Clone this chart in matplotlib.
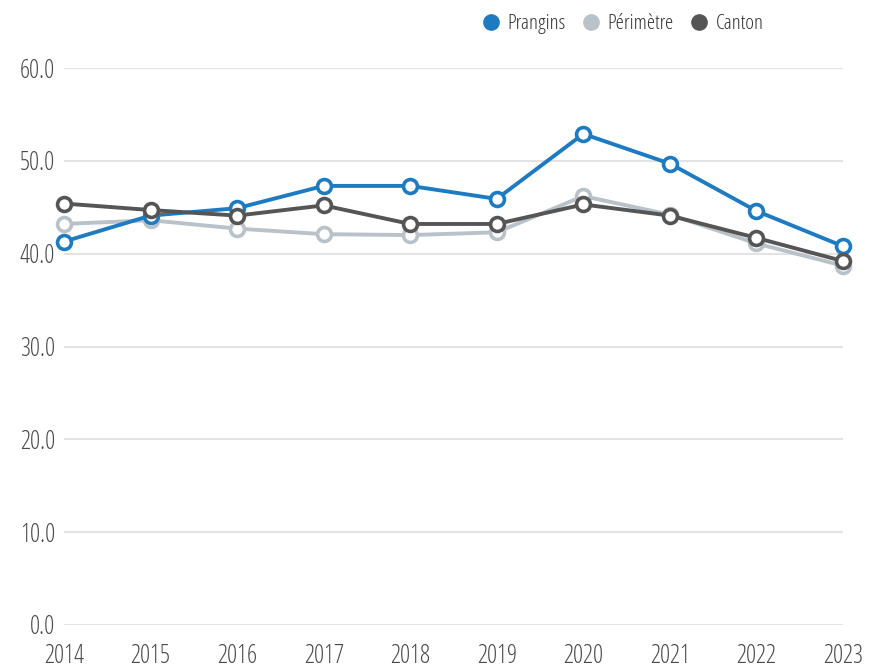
import matplotlib
matplotlib.use("Agg")
import matplotlib.pyplot as plt
from matplotlib.lines import Line2D
from matplotlib.font_manager import FontProperties

years = [2014, 2015, 2016, 2017, 2018, 2019, 2020, 2021, 2022, 2023]
prangins = [41.3, 44.1, 44.9, 47.3, 47.3, 45.9, 52.9, 49.7, 44.6, 40.8]
perimetre = [43.2, 43.6, 42.7, 42.1, 42.0, 42.3, 46.2, 44.2, 41.1, 38.7]
canton = [45.4, 44.7, 44.1, 45.2, 43.2, 43.2, 45.3, 44.1, 41.7, 39.2]
series_names = ["Prangins", "Périmètre", "Canton"]
colors = ["#1f7bc1", "#b9c1c9", "#555555"]
yticks = [0, 10, 20, 30, 40, 50, 60]

tick_fp = FontProperties(family='Open Sans', stretch='condensed', weight=300, size=18)
leg_fp = FontProperties(family='Open Sans', stretch='condensed', weight=300, size=15)

fig = plt.figure(figsize=(8.71, 6.68), dpi=100)
ax = fig.add_axes([64/871, 1-625/668, (843-64)/871, (625-68)/668])

order = [(perimetre, colors[1]), (prangins, colors[0]), (canton, colors[2])]
for ys, c in order:
    ax.plot(years, ys, color=c, lw=2.8, marker='o', markersize=10,
            markerfacecolor='white', markeredgecolor=c, markeredgewidth=2.6,
            clip_on=False, zorder=3)

ax.set_xlim(2014, 2023)
ax.set_ylim(0, 60)
ax.set_yticks(yticks)
ax.set_yticklabels([f"{v:.1f}" for v in yticks])
ax.set_xticks(years)
ax.set_xticklabels([str(y) for y in years])
for lab in ax.get_xticklabels() + ax.get_yticklabels():
    lab.set_fontproperties(tick_fp)
    lab.set_color('#4a4a4a')
ax.grid(axis='y', color='#e3e3e3', lw=1.5, zorder=0)
ax.set_axisbelow(True)
for s in ax.spines.values():
    s.set_visible(False)
ax.tick_params(axis='both', length=0)
ax.tick_params(axis='y', pad=6.5)
ax.tick_params(axis='x', pad=14)

handles = [Line2D([], [], color=c, marker='o', linestyle='none', markersize=11)
           for c in colors]
leg = fig.legend(handles, series_names, loc='center', bbox_to_anchor=(0.713, 0.964),
                 ncol=3, frameon=False, prop=leg_fp, handletextpad=0.2,
                 handlelength=1.2, columnspacing=0.6, labelcolor='#333333')

fig.savefig("out.png", dpi=100, facecolor='white')
